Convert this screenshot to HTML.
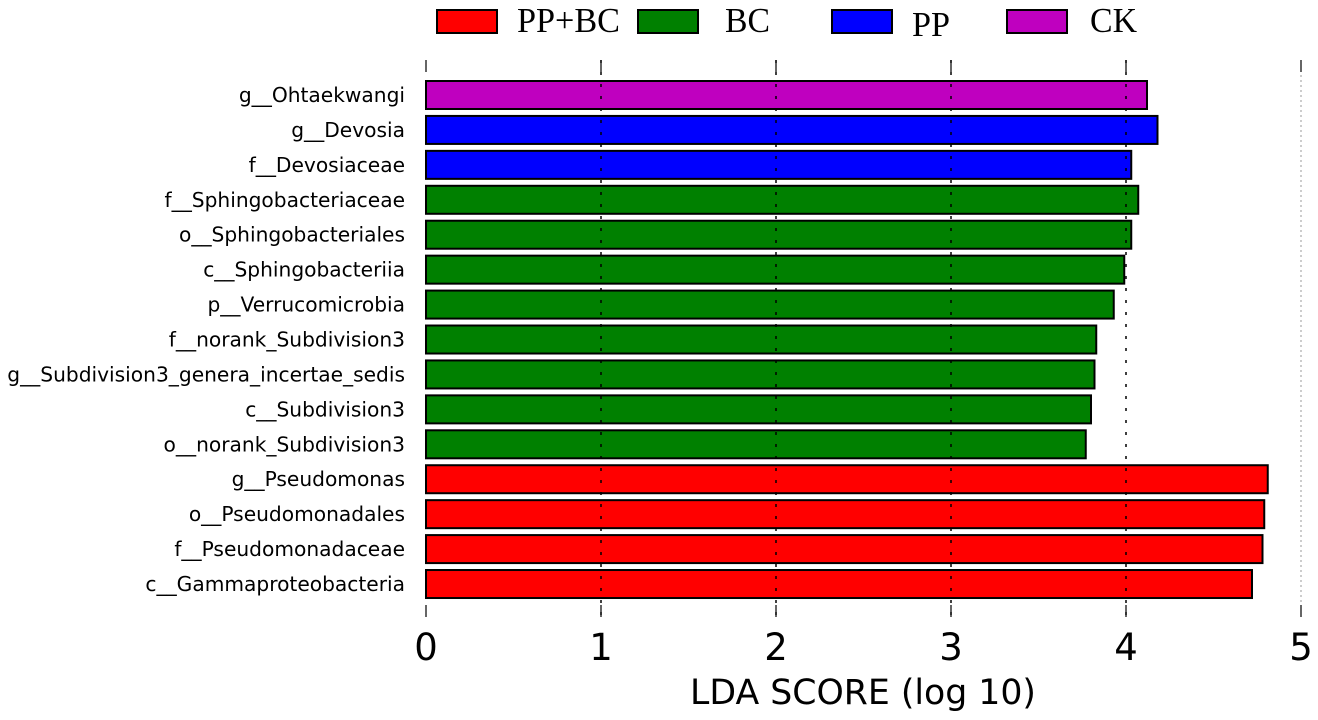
<!DOCTYPE html>
<html><head><meta charset="utf-8"><style>body{margin:0;background:#fff}svg{display:block}</style></head>
<body>
<svg id="chart" width="1318" height="720" xmlns="http://www.w3.org/2000/svg"></svg>
<script>
const labels=["g__Ohtaekwangi","g__Devosia","f__Devosiaceae","f__Sphingobacteriaceae","o__Sphingobacteriales","c__Sphingobacteriia","p__Verrucomicrobia","f__norank_Subdivision3","g__Subdivision3_genera_incertae_sedis","c__Subdivision3","o__norank_Subdivision3","g__Pseudomonas","o__Pseudomonadales","f__Pseudomonadaceae","c__Gammaproteobacteria"];
const scores=[4.12,4.18,4.03,4.07,4.03,3.99,3.93,3.83,3.82,3.80,3.77,4.81,4.79,4.78,4.72];
const groups=["CK","PP","PP","BC","BC","BC","BC","BC","BC","BC","BC","PP+BC","PP+BC","PP+BC","PP+BC"];
const legendNames=["PP+BC","BC","PP","CK"];
const ticks=[0,1,2,3,4,5];
const colors={"PP+BC":"#ff0000","BC":"#008000","PP":"#0000ff","CK":"#bf00bf"};
const NS="http://www.w3.org/2000/svg";
const svg=document.getElementById('chart');
const x=v=>426+v*175;
const y=i=>81+i*34.93;
function mk(t,a,p){const e=document.createElementNS(NS,t);for(const k in a)e.setAttribute(k,a[k]);(p||svg).appendChild(e);return e;}
labels.forEach((lab,i)=>{
  const r=mk('rect',{x:x(0),y:y(i),width:x(scores[i])-x(0),height:28,fill:colors[groups[i]],stroke:'#000','stroke-width':2});
  
  
  const t=mk('text',{x:405,y:y(i)+21,'text-anchor':'end','font-family':'DejaVu Sans, sans-serif','font-size':20.2});
  t.textContent=lab;
  
  
});
ticks.forEach(t=>{
  if(t===0)return;
  const g=mk('line',{x1:x(t),x2:x(t),y1:60,y2:617,stroke:t===5?'#999':'#000','stroke-width':t===5?1:1.5,'stroke-dasharray':t===5?'2,3':'3,9'});
  
  
});
ticks.forEach(t=>{
  const a=mk('line',{x1:x(t),x2:x(t),y1:60,y2:72,stroke:'#000','stroke-width':1.2});
  
  
  const b=mk('line',{x1:x(t),x2:x(t),y1:605,y2:617,stroke:'#000','stroke-width':1.2});
  
  
  const l=mk('text',{x:x(t),y:660,'text-anchor':'middle','font-family':'DejaVu Sans, sans-serif','font-size':37});
  l.textContent=t;
  
  
});
const title=mk('text',{x:863,y:704,'text-anchor':'middle','font-family':'DejaVu Sans, sans-serif','font-size':34.7});
title.textContent="LDA SCORE (log 10)";


const lx=[437,638,832,1007], tx=[517,725,912,1090], tw=[103,45,38,47], ty=[32,32,36,32];
legendNames.forEach((n,i)=>{
  const r=mk('rect',{x:lx[i],y:10,width:60,height:23,fill:colors[n],stroke:'#000','stroke-width':2});
  
  
  const t=mk('text',{x:tx[i],y:ty[i],'font-family':'Liberation Serif, serif','font-size':35,textLength:tw[i],lengthAdjust:'spacingAndGlyphs'});
  t.textContent=n;
  
  
});
</script>
</body></html>
